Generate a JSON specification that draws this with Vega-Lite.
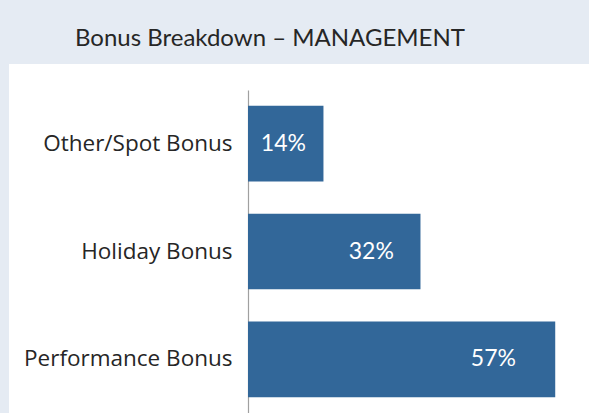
{
  "$schema": "https://vega.github.io/schema/vega-lite/v6.json",
  "autosize": "none",
  "width": 580,
  "height": 349,
  "padding": {"left": 9, "top": 64, "right": 0, "bottom": 0},
  "background": "#e5ebf3",
  "config": {
    "view": {"fill": "white", "stroke": null},
    "font": "Open Sans"
  },
  "title": {
    "text": "Bonus Breakdown – MANAGEMENT",
    "anchor": "start",
    "frame": "group",
    "dx": 66,
    "dy": 24,
    "offset": 18,
    "baseline": "alphabetic",
    "fontSize": 24,
    "fontWeight": "normal",
    "color": "#262626",
    "font": "Lato"
  },
  "data": {
    "values": [
      {"category": "Other/Spot Bonus", "value": 0.14},
      {"category": "Holiday Bonus", "value": 0.32},
      {"category": "Performance Bonus", "value": 0.57}
    ]
  },
  "encoding": {
    "y": {
      "field": "category",
      "type": "nominal",
      "sort": ["Other/Spot Bonus", "Holiday Bonus", "Performance Bonus"],
      "scale": {"rangeMin": 26, "paddingInner": 0.3, "paddingOuter": 0.147},
      "axis": {
        "title": null,
        "offset": -239,
        "ticks": false,
        "domainColor": "#a0a0a0",
        "domainWidth": 1.2,
        "labelPadding": 16,
        "labelFontSize": 22.5,
        "labelColor": "#262626",
        "labelFont": "Open Sans",
        "labelLimit": 300
      }
    }
  },
  "layer": [
    {
      "mark": {"type": "bar", "color": "#326799"},
      "encoding": {
        "x": {
          "field": "value",
          "type": "quantitative",
          "scale": {"domain": [0, 0.6], "rangeMin": 239, "rangeMax": 562.4},
          "axis": null
        }
      }
    },
    {
      "mark": {"type": "text", "align": "right", "color": "white", "fontSize": 23, "font": "Lato", "baseline": "middle"},
      "encoding": {
        "x": {
          "field": "value",
          "type": "quantitative",
          "scale": {"domain": [0, 0.6], "rangeMin": 228.6, "rangeMax": 521.6},
          "axis": null
        },
        "text": {"field": "value", "type": "quantitative", "format": ".0%"}
      }
    }
  ],
  "resolve": {"scale": {"x": "independent"}, "axis": {"x": "independent"}}
}
